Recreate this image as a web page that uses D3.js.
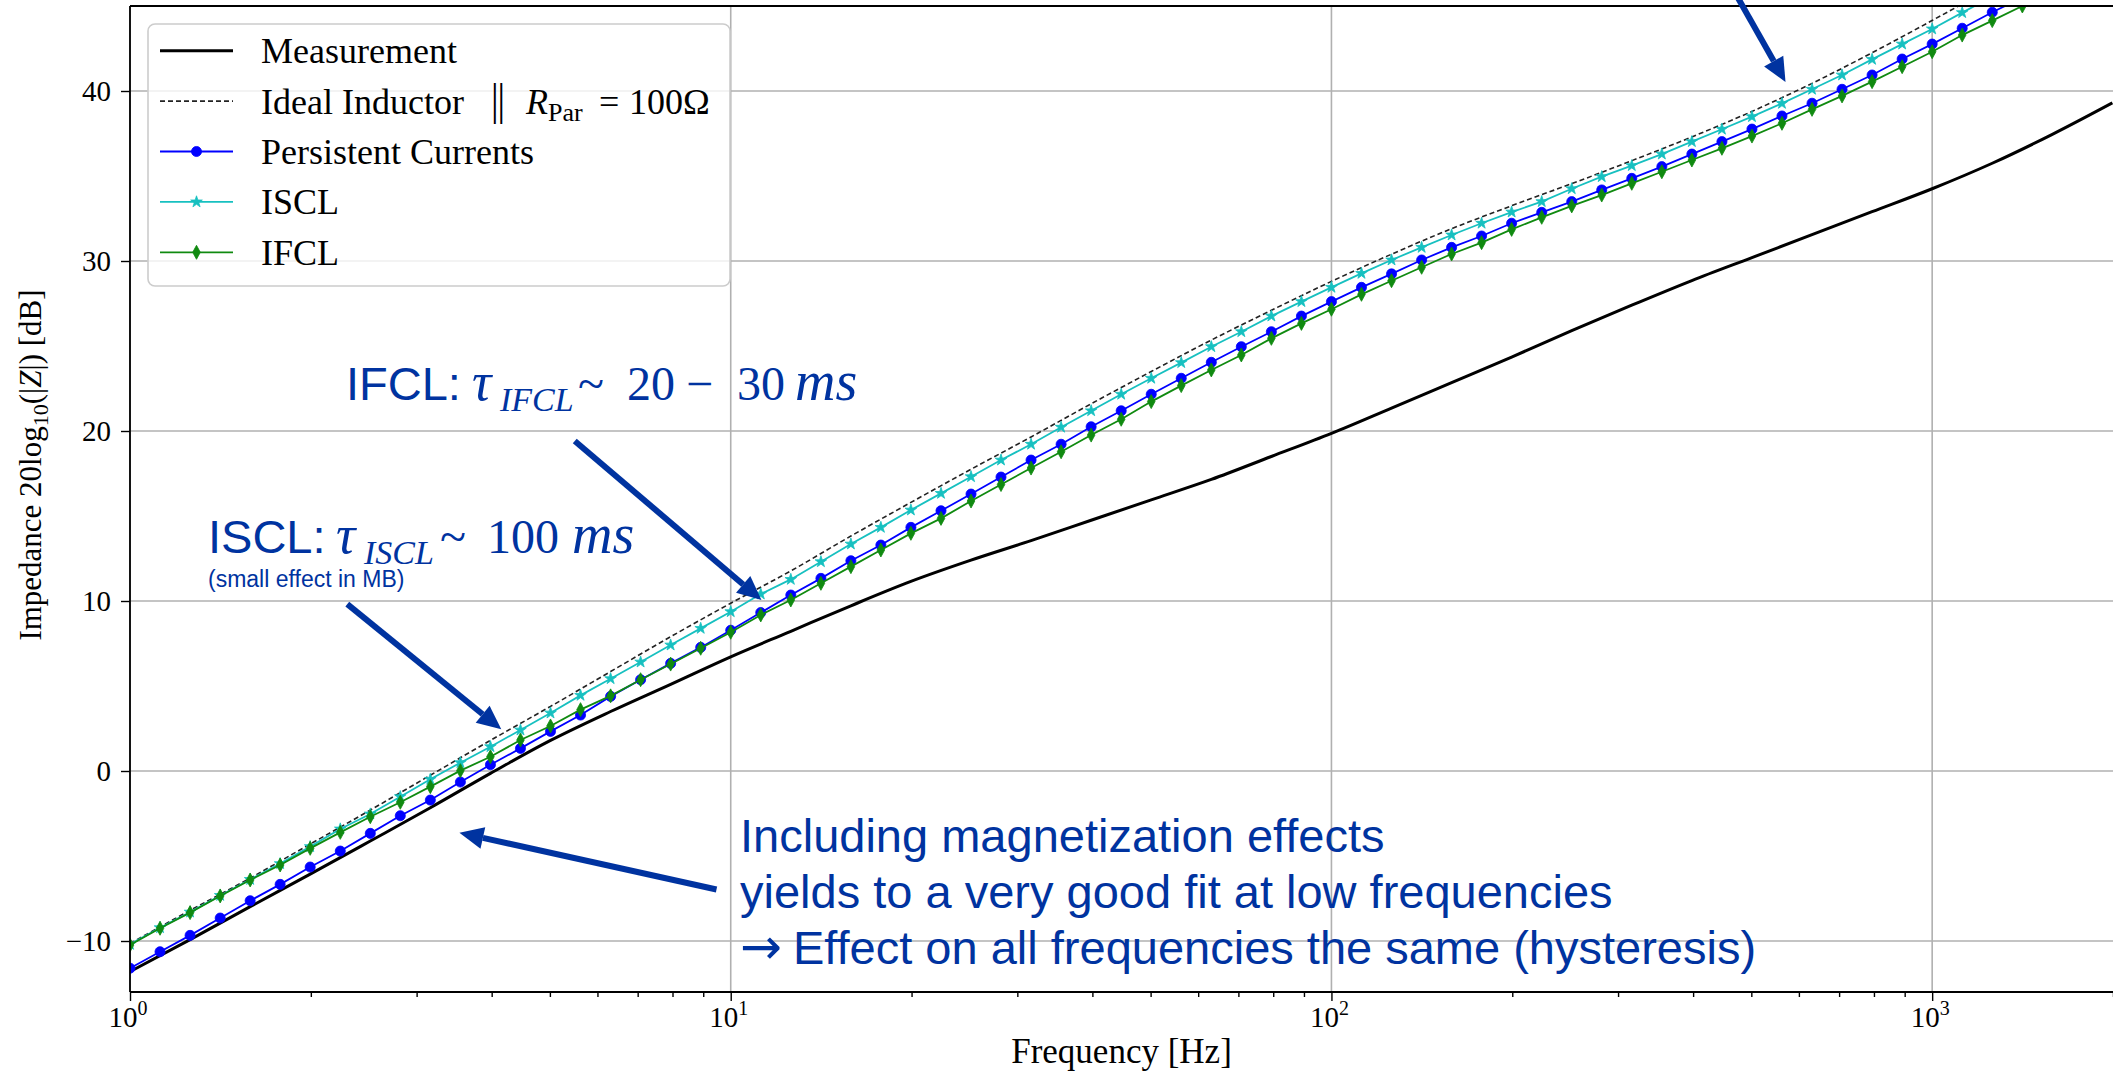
<!DOCTYPE html>
<html>
<head>
<meta charset="utf-8">
<script src="https://cdn.jsdelivr.net/npm/d3@7"></script>
<style>
  html, body { margin: 0; padding: 0; background: #ffffff; }
  svg { display: block; }
</style>
</head>
<body>
<svg id="chart" width="2113" height="1078"></svg>
<script>
// ---- data -------------------------------------------------------------
// model frequencies: 20 points per decade [Hz]
const modelFreq = [1, 1.122, 1.259, 1.413, 1.585, 1.778, 1.995, 2.239, 2.512, 2.818,
  3.162, 3.548, 3.981, 4.467, 5.012, 5.623, 6.310, 7.079, 7.943, 8.913,
  10, 11.22, 12.59, 14.13, 15.85, 17.78, 19.95, 22.39, 25.12, 28.18,
  31.62, 35.48, 39.81, 44.67, 50.12, 56.23, 63.10, 70.79, 79.43, 89.13,
  100, 112.2, 125.9, 141.3, 158.5, 177.8, 199.5, 223.9, 251.2, 281.8,
  316.2, 354.8, 398.1, 446.7, 501.2, 562.3, 631.0, 707.9, 794.3, 891.3,
  1000, 1122, 1259, 1413];

// impedance in dB for each model, sampled at modelFreq
const persistentCurrents = [-11.6, -10.63, -9.67, -8.65, -7.63, -6.67, -5.65, -4.71, -3.67, -2.63,
  -1.71, -0.65, 0.37, 1.33, 2.33, 3.29, 4.39, 5.37, 6.33, 7.27,
  8.28, 9.32, 10.35, 11.33, 12.37, 13.29, 14.33, 15.31, 16.29, 17.29,
  18.29, 19.22, 20.25, 21.19, 22.16, 23.1, 24.04, 24.96, 25.84, 26.76,
  27.61, 28.45, 29.24, 30.06, 30.8, 31.47, 32.22, 32.86, 33.49, 34.18,
  34.86, 35.55, 36.29, 37.02, 37.76, 38.53, 39.28, 40.1, 40.94, 41.88,
  42.76, 43.69, 44.63, 45.5];

const iscl = [-10.2, -9.22, -8.3, -7.32, -6.38, -5.45, -4.45, -3.41, -2.53, -1.51,
  -0.49, 0.49, 1.43, 2.41, 3.41, 4.45, 5.43, 6.41, 7.41, 8.39,
  9.37, 10.41, 11.27, 12.31, 13.35, 14.33, 15.35, 16.33, 17.31, 18.29,
  19.22, 20.22, 21.19, 22.16, 23.1, 24.02, 24.96, 25.84, 26.76, 27.61,
  28.45, 29.27, 30.06, 30.8, 31.53, 32.22, 32.88, 33.49, 34.25, 34.96,
  35.61, 36.29, 37.02, 37.75, 38.49, 39.27, 40.1, 40.94, 41.86, 42.76,
  43.65, 44.61, 45.55];

const ifcl = [-10.24, -9.25, -8.33, -7.35, -6.41, -5.53, -4.55, -3.61, -2.69, -1.84,
  -0.92, 0.02, 0.84, 1.82, 2.65, 3.61, 4.42, 5.37, 6.29, 7.22,
  8.16, 9.18, 10.06, 11.04, 12.02, 13.0, 13.98, 14.86, 15.88, 16.85,
  17.82, 18.78, 19.76, 20.69, 21.73, 22.67, 23.59, 24.47, 25.45, 26.33,
  27.16, 28.04, 28.84, 29.63, 30.41, 31.08, 31.86, 32.57, 33.24, 33.88,
  34.57, 35.25, 35.94, 36.63, 37.35, 38.1, 38.92, 39.71, 40.55, 41.43,
  42.31, 43.29, 44.14, 45.0];

// measured and reference curves: 10 points per decade [Hz]
const refFreq = [1, 1.259, 1.585, 1.995, 2.512, 3.162, 3.981, 5.012, 6.310, 7.943,
  10, 12.59, 15.85, 19.95, 25.12, 31.62, 39.81, 50.12, 63.10, 79.43,
  100, 125.9, 158.5, 199.5, 251.2, 316.2, 398.1, 501.2, 631.0, 794.3,
  1000, 1259, 1585, 1995];

const measurement = [-11.8, -9.92, -7.98, -6.07, -4.12, -2.16, -0.14, 1.8, 3.5, 5.1,
  6.72, 8.22, 9.72, 11.15, 12.4, 13.55, 14.75, 15.95, 17.15, 18.5,
  19.86, 21.35, 22.85, 24.35, 25.9, 27.4, 28.85, 30.2, 31.55, 32.9,
  34.25, 35.75, 37.45, 39.3];

const idealInductor = [-10.15, -8.2, -6.3, -4.3, -2.3, -0.25, 1.8, 3.8, 5.85, 7.9,
  9.87, 11.77, 13.82, 15.8, 17.75, 19.65, 21.6, 23.5, 25.35, 27.1,
  28.8, 30.4, 31.9, 33.25, 34.55, 35.9, 37.3, 38.8, 40.45, 42.25,
  44.15, 46.1];

// axis ticks
const xMajorTicks = [1, 10, 100, 1000];
const xTickExponents = ["0", "1", "2", "3"];
const xMinorTicks = [2, 3, 4, 5, 6, 7, 8, 9, 20, 30, 40, 50, 60, 70, 80, 90,
  200, 300, 400, 500, 600, 700, 800, 900, 2000];
const yTicks = [-10, 0, 10, 20, 30, 40];

// ---- layout -----------------------------------------------------------
const W = 2113, H = 1078;
const plot = { left: 130, right: 2113, top: 6, bottom: 992 };
const serif = "'Liberation Serif', 'Times New Roman', serif";
const sans = "'Liberation Sans', Arial, sans-serif";
const noteBlue = "#0033a0";

const svg = d3.select("#chart");
svg.append("rect").attr("width", W).attr("height", H).attr("fill", "#ffffff");

const x = d3.scaleLog().domain([1, 2000]).range([plot.left, plot.right]);
const y = d3.scaleLinear().domain([-13, 45]).range([plot.bottom, plot.top]);

svg.append("defs").append("clipPath").attr("id", "plotClip")
  .append("rect")
  .attr("x", plot.left).attr("y", plot.top)
  .attr("width", plot.right - plot.left).attr("height", plot.bottom - plot.top);

// ---- grid -------------------------------------------------------------
const grid = svg.append("g").attr("stroke", "#b0b0b0").attr("stroke-width", 1.6);
grid.selectAll("line.gx").data(xMajorTicks).join("line")
  .attr("x1", d => x(d)).attr("x2", d => x(d))
  .attr("y1", plot.top).attr("y2", plot.bottom);
grid.selectAll("line.gy").data(yTicks).join("line")
  .attr("x1", plot.left).attr("x2", plot.right)
  .attr("y1", d => y(d)).attr("y2", d => y(d));

// ---- axes -------------------------------------------------------------
const xAxisMajor = svg.append("g").attr("transform", `translate(0,${plot.bottom})`)
  .call(d3.axisBottom(x).tickValues(xMajorTicks).tickSize(9).tickFormat(""));
const xAxisMinor = svg.append("g").attr("transform", `translate(0,${plot.bottom})`)
  .call(d3.axisBottom(x).tickValues(xMinorTicks).tickSize(5).tickFormat(""));
[xAxisMajor, xAxisMinor].forEach(g => {
  g.select(".domain").remove();
  g.selectAll(".tick line").attr("stroke", "#000").attr("stroke-width", 1.4);
});

const xLabels = svg.append("g");
xMajorTicks.forEach((v, i) => {
  const t = xLabels.append("text")
    .attr("x", x(v) - 2).attr("y", 1027)
    .attr("text-anchor", "middle")
    .attr("font-family", serif).attr("font-size", 29).attr("fill", "#000");
  t.append("tspan").text("10");
  t.append("tspan").attr("dy", -12).attr("font-size", 20).text(xTickExponents[i]);
});

const yAxis = svg.append("g").attr("transform", `translate(${plot.left},0)`)
  .call(d3.axisLeft(y).tickValues(yTicks).tickSize(9).tickPadding(10));
yAxis.select(".domain").remove();
yAxis.selectAll(".tick line").attr("stroke", "#000").attr("stroke-width", 1.4);
yAxis.selectAll(".tick text")
  .attr("font-family", serif).attr("font-size", 29).attr("fill", "#000")
  .attr("dy", "0.34em");

// ---- data lines -------------------------------------------------------
const dataLayer = svg.append("g").attr("clip-path", "url(#plotClip)");
const smoothLine = d3.line().x(d => x(d[0])).y(d => y(d[1])).curve(d3.curveMonotoneX);
const straightLine = d3.line().x(d => x(d[0])).y(d => y(d[1]));

const measPts = measurement.map((v, i) => [refFreq[i], v]);
const idealPts = idealInductor.map((v, i) => [refFreq[i], v]);

dataLayer.append("path").datum(measPts)
  .attr("d", smoothLine).attr("fill", "none")
  .attr("stroke", "#000").attr("stroke-width", 3);

dataLayer.append("path").datum(idealPts)
  .attr("d", smoothLine).attr("fill", "none")
  .attr("stroke", "#222").attr("stroke-width", 1.6)
  .attr("stroke-dasharray", "5,3");

const starPath = d3.symbol().type(d3.symbolStar).size(42)();
const diamondPath = "M0,-7L3.8,0L0,7L-3.8,0Z";
const circlePath = d3.symbol().type(d3.symbolCircle).size(80)();

const series = [
  { name: "Persistent Currents", values: persistentCurrents, color: "#0000ff", marker: circlePath },
  { name: "ISCL", values: iscl, color: "#17c0c0", marker: starPath },
  { name: "IFCL", values: ifcl, color: "#108a10", marker: diamondPath }
];

series.forEach(s => {
  const pts = s.values.map((v, i) => [modelFreq[i], v]);
  dataLayer.append("path").datum(pts)
    .attr("d", straightLine).attr("fill", "none")
    .attr("stroke", s.color).attr("stroke-width", 1.8);
  dataLayer.append("g").selectAll("path").data(pts).join("path")
    .attr("d", s.marker)
    .attr("transform", d => `translate(${x(d[0])},${y(d[1])})`)
    .attr("fill", s.color).attr("stroke", s.color).attr("stroke-width", 0.8);
});

// ---- spines -----------------------------------------------------------
const spines = svg.append("g").attr("stroke", "#000").attr("stroke-width", 1.8);
spines.append("line").attr("x1", plot.left).attr("x2", plot.left).attr("y1", plot.top).attr("y2", plot.bottom);
spines.append("line").attr("x1", plot.left).attr("x2", plot.right).attr("y1", plot.bottom).attr("y2", plot.bottom);
spines.append("line").attr("x1", plot.left).attr("x2", plot.right).attr("y1", plot.top).attr("y2", plot.top);

// ---- axis titles ------------------------------------------------------
svg.append("text")
  .attr("x", (plot.left + plot.right) / 2).attr("y", 1063)
  .attr("text-anchor", "middle")
  .attr("font-family", serif).attr("font-size", 35).attr("fill", "#000")
  .text("Frequency [Hz]");

const yTitle = svg.append("text")
  .attr("transform", "translate(41,465) rotate(-90)")
  .attr("text-anchor", "middle")
  .attr("font-family", serif).attr("font-size", 31).attr("fill", "#000");
yTitle.append("tspan").text("Impedance 20log");
yTitle.append("tspan").attr("dy", 7).attr("font-size", 22).text("10");
yTitle.append("tspan").attr("dy", -7).text("(|");
yTitle.append("tspan").attr("font-style", "italic").text("Z");
yTitle.append("tspan").text("|) [dB]");

// ---- legend -----------------------------------------------------------
const legend = svg.append("g");
legend.append("rect")
  .attr("x", 148).attr("y", 24).attr("width", 582).attr("height", 262)
  .attr("rx", 7).attr("ry", 7)
  .attr("fill", "#ffffff").attr("fill-opacity", 0.8)
  .attr("stroke", "#cccccc").attr("stroke-width", 1.6);

const rowY = k => 50.7 + 50.4 * k;
const handleX1 = 160, handleX2 = 233, handleMid = 196.5, labelX = 261;

legend.append("line").attr("x1", handleX1).attr("x2", handleX2)
  .attr("y1", rowY(0)).attr("y2", rowY(0)).attr("stroke", "#000").attr("stroke-width", 3);
legend.append("line").attr("x1", handleX1).attr("x2", handleX2)
  .attr("y1", rowY(1)).attr("y2", rowY(1)).attr("stroke", "#222").attr("stroke-width", 1.6)
  .attr("stroke-dasharray", "5,3");
series.forEach((s, i) => {
  const yy = rowY(i + 2);
  legend.append("line").attr("x1", handleX1).attr("x2", handleX2)
    .attr("y1", yy).attr("y2", yy).attr("stroke", s.color).attr("stroke-width", 1.8);
  legend.append("path").attr("d", s.marker)
    .attr("transform", `translate(${handleMid},${yy})`)
    .attr("fill", s.color).attr("stroke", s.color).attr("stroke-width", 0.8);
});

const legendText = (k) => legend.append("text")
  .attr("x", labelX).attr("y", rowY(k) + 12.5)
  .attr("font-family", serif).attr("font-size", 36).attr("fill", "#000");

legendText(0).text("Measurement");
const idealLabel = legendText(1);
idealLabel.append("tspan").text("Ideal Inductor");
idealLabel.append("tspan").attr("x", 488)
  .attr("font-family", "'DejaVu Sans', sans-serif").attr("font-size", 40)
  .attr("font-weight", 300).text("\u2016");
idealLabel.append("tspan").attr("x", 526).attr("font-style", "italic").text("R");
idealLabel.append("tspan").attr("dy", 7).attr("font-size", 26).text("Par");
idealLabel.append("tspan").attr("x", 599).attr("dy", -7).text("=");
idealLabel.append("tspan").attr("x", 629).text("100\u03A9");
legendText(2).text("Persistent Currents");
legendText(3).text("ISCL");
legendText(4).text("IFCL");

// ---- annotations --------------------------------------------------------
const notes = svg.append("g").attr("fill", noteBlue);

function drawArrow(from, to) {
  const x1 = x(from[0]), y1 = y(from[1]);
  const x2 = x(to[0]), y2 = y(to[1]);
  const ang = Math.atan2(y2 - y1, x2 - x1);
  const headLen = 24, headHalf = 11;
  const bx = x2 - headLen * Math.cos(ang), by = y2 - headLen * Math.sin(ang);
  notes.append("line")
    .attr("x1", x1).attr("y1", y1).attr("x2", bx).attr("y2", by)
    .attr("stroke", noteBlue).attr("stroke-width", 6);
  notes.append("path")
    .attr("d", `M${x2},${y2}L${bx + headHalf * Math.sin(ang)},${by - headHalf * Math.cos(ang)}` +
               `L${bx - headHalf * Math.sin(ang)},${by + headHalf * Math.cos(ang)}Z`)
    .attr("fill", noteBlue);
}

// arrow end points in data units [Hz, dB]
drawArrow([5.5, 19.41], [11.25, 10.06]);   // IFCL
drawArrow([2.30, 9.82], [4.15, 2.45]);     // ISCL
drawArrow([9.47, -6.97], [3.535, -3.63]);  // magnetization
drawArrow([472, 45.65], [570, 40.53]);     // upper note

function mathNote(label, labelX, baseY, parts) {
  const t = notes.append("text").attr("y", baseY);
  t.append("tspan").attr("x", labelX)
    .attr("font-family", sans).attr("font-size", 47).text(label);
  parts.forEach(p => {
    const s = t.append("tspan").attr("x", p.x)
      .attr("font-family", serif)
      .attr("font-size", p.size || 48)
      .attr("font-style", p.italic ? "italic" : "normal")
      .text(p.text);
    if (p.y !== undefined) s.attr("y", p.y);
  });
}

mathNote("IFCL:", 346, 400, [
  { text: "\u03C4", x: 472, italic: true, size: 54 },
  { text: "IFCL", x: 500, italic: true, size: 34, y: 411 },
  { text: "~", x: 578, y: 400 },
  { text: "20", x: 627 },
  { text: "\u2212", x: 686 },
  { text: "30", x: 737 },
  { text: "ms", x: 795, italic: true, size: 56 }
]);

mathNote("ISCL:", 208, 553, [
  { text: "\u03C4", x: 336, italic: true, size: 54 },
  { text: "ISCL", x: 364, italic: true, size: 34, y: 564 },
  { text: "~", x: 440, y: 553 },
  { text: "100", x: 487 },
  { text: "ms", x: 572, italic: true, size: 56 }
]);

notes.append("text").attr("x", 208).attr("y", 587)
  .attr("font-family", sans).attr("font-size", 23)
  .text("(small effect in MB)");

const magLines = [
  "Including magnetization effects",
  "yields to a very good fit at low frequencies",
  "Effect on all frequencies the same (hysteresis)"
];
const magText = notes.selectAll("text.mag").data(magLines).join("text")
  .attr("class", "mag")
  .attr("y", (d, i) => 852 + 56 * i)
  .attr("font-family", sans).attr("font-size", 47);
magText.each(function (d, i) {
  const t = d3.select(this);
  if (i === 2) {
    t.append("tspan").attr("x", 740)
      .attr("font-family", "'DejaVu Sans', sans-serif").attr("font-size", 50)
      .text("\u2192");
    t.append("tspan").attr("x", 793).text(d);
  } else {
    t.append("tspan").attr("x", 740).text(d);
  }
});
</script>
</body>
</html>
